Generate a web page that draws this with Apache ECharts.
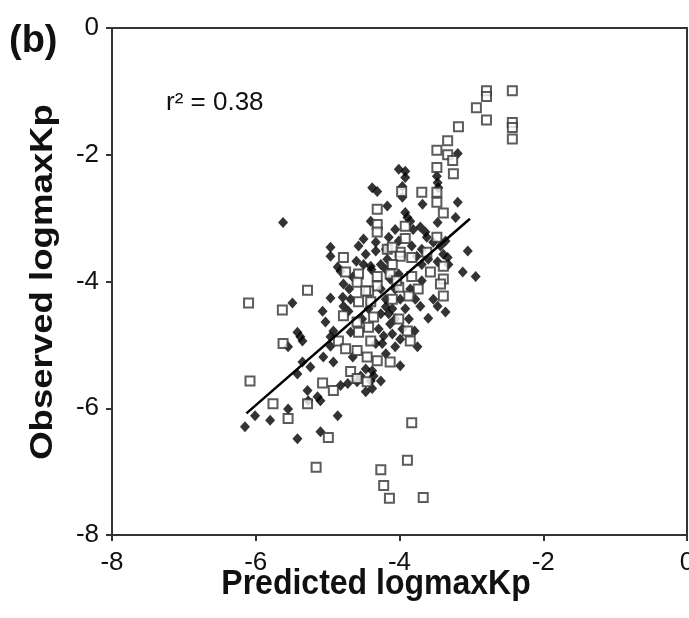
<!DOCTYPE html>
<html>
<head>
<meta charset="utf-8">
<script src="https://cdn.jsdelivr.net/npm/echarts@6/dist/echarts.min.js"></script>
<style>
html,body{margin:0;padding:0;background:#fff;}
#chart{width:689px;height:618px;}
</style>
</head>
<body>
<div id="chart"></div>
<script>
// Open squares (predicted, observed)
const squarePoints = [
[-2.79,-0.99],[-2.79,-1.08],[-2.43,-0.99],[-2.93,-1.26],[-2.79,-1.45],[-2.43,-1.49],[-2.43,-1.57],[-2.43,-1.75],
[-3.18,-1.56],[-3.33,-1.78],[-3.48,-1.93],[-3.33,-2.00],[-3.26,-2.09],[-3.48,-2.20],[-3.25,-2.30],[-3.69,-2.59],
[-3.48,-2.59],[-3.48,-2.75],[-3.39,-2.92],[-3.48,-3.30],[-3.92,-3.32],[-3.99,-3.54],[-4.31,-2.86],[-4.31,-3.10],
[-4.31,-3.22],[-4.17,-3.49],[-4.78,-3.62],[-4.75,-3.85],[-4.57,-3.88],[-4.59,-4.01],[-4.31,-3.92],[-4.31,-4.07],
[-5.28,-4.14],[-4.43,-4.15],[-6.10,-4.34],[-5.63,-4.45],[-5.62,-4.98],[-6.08,-5.57],[-5.76,-5.93],[-5.55,-6.16],
[-5.28,-5.93],[-5.07,-5.60],[-4.92,-5.72],[-4.78,-4.54],[-4.85,-4.94],[-4.75,-5.06],[-4.59,-5.09],[-4.45,-5.19],
[-4.68,-5.42],[-4.59,-5.53],[-4.59,-4.64],[-4.57,-4.80],[-4.40,-4.94],[-4.47,-4.15],[-4.40,-4.32],[-4.57,-4.32],
[-4.36,-4.56],[-3.97,-2.58],[-3.92,-3.13],[-4.10,-3.46],[-3.99,-3.60],[-4.10,-3.73],[-3.83,-3.62],[-3.62,-3.54],
[-3.39,-3.76],[-3.57,-3.85],[-3.83,-3.92],[-3.74,-4.12],[-3.87,-4.23],[-4.10,-4.28],[-4.01,-4.09],[-3.39,-3.96],
[-3.43,-4.04],[-3.39,-4.23],[-4.01,-4.59],[-3.89,-4.78],[-3.85,-4.94],[-4.13,-5.27],[-3.83,-6.23],[-4.26,-6.97],
[-4.22,-7.22],[-4.14,-7.42],[-3.89,-6.82],[-3.67,-7.41],[-5.16,-6.93],[-4.99,-6.46],[-4.43,-4.72],[-4.31,-5.25],
[-4.45,-5.58],[-4.13,-3.88],[-4.04,-3.99]
];
// Filled diamonds (predicted, observed)
const diamondPoints = [
[-3.19,-1.98],[-4.01,-2.23],[-3.92,-2.26],[-3.92,-2.36],[-3.48,-2.34],[-3.47,-2.44],[-3.46,-2.52],[-3.96,-2.50],
[-3.96,-2.67],[-4.17,-2.81],[-3.68,-2.78],[-3.19,-2.75],[-3.92,-2.91],[-3.89,-2.99],[-3.22,-2.99],[-3.47,-3.07],
[-3.71,-3.14],[-3.64,-3.22],[-3.81,-3.18],[-3.05,-3.52],[-3.39,-3.57],[-5.62,-3.07],[-4.38,-2.52],[-4.31,-2.58],
[-4.96,-3.46],[-4.96,-3.60],[-4.57,-3.44],[-4.50,-3.33],[-4.33,-3.52],[-4.86,-3.77],[-4.78,-4.04],[-4.50,-3.73],
[-4.40,-3.76],[-5.49,-4.34],[-5.07,-4.47],[-5.03,-4.64],[-4.96,-4.26],[-4.79,-4.25],[-5.42,-4.80],[-5.38,-4.87],
[-5.35,-4.94],[-5.55,-5.03],[-5.35,-5.27],[-5.24,-5.35],[-5.06,-5.19],[-5.42,-5.46],[-5.28,-5.72],[-5.14,-5.82],
[-5.10,-5.88],[-5.55,-6.01],[-6.01,-6.12],[-5.80,-6.19],[-4.86,-6.12],[-6.15,-6.29],[-4.47,-5.74],[-4.36,-5.49],
[-3.99,-5.33],[-4.26,-5.57],[-3.71,-4.39],[-3.60,-4.58],[-3.53,-4.28],[-3.47,-4.39],[-3.36,-4.48],[-3.75,-5.03],
[-4.06,-5.03],[-3.79,-4.78],[-4.40,-3.05],[-4.33,-3.38],[-4.82,-3.84],[-4.39,-3.81],[-4.19,-3.49],[-4.17,-3.65],
[-3.85,-3.05],[-4.06,-3.18],[-4.15,-3.30],[-4.01,-3.36],[-3.62,-3.30],[-3.53,-3.38],[-3.43,-3.44],[-3.36,-3.36],
[-3.83,-3.44],[-3.69,-3.49],[-3.76,-3.60],[-3.60,-3.65],[-3.69,-3.73],[-3.47,-3.69],[-3.33,-3.62],[-3.32,-3.73],
[-3.12,-3.85],[-2.94,-3.92],[-3.69,-3.99],[-4.15,-4.51],[-4.13,-4.67],[-3.96,-4.75],[-4.78,-4.39],[-4.71,-4.47],
[-4.92,-4.78],[-4.96,-4.87],[-4.96,-5.02],[-4.92,-5.27],[-4.68,-4.80],[-4.65,-5.19],[-4.47,-5.38],[-4.38,-5.41],
[-4.40,-5.57],[-4.54,-5.49],[-4.82,-5.64],[-4.72,-5.61],[-4.59,-5.58],[-4.38,-5.69],[-5.27,-5.88],[-4.24,-4.98],
[-4.22,-4.86],[-4.26,-4.51],[-4.19,-4.40],[-5.42,-6.48],[-5.10,-6.37],[-4.19,-3.81],[-4.13,-3.96],[-4.06,-4.12],
[-4.26,-4.12],[-4.19,-4.28],[-4.10,-4.43],[-3.99,-4.28],[-3.92,-4.43],[-4.06,-4.59],[-4.26,-3.73],[-4.01,-3.88],
[-3.85,-4.12],[-3.78,-4.28],[-3.87,-4.59],[-3.99,-4.91],[-4.10,-4.83],[-4.19,-5.14],[-4.29,-4.75],[-4.33,-4.98],
[-4.43,-4.43],[-4.52,-4.59],[-4.68,-4.28],[-4.47,-3.57],[-4.60,-3.68],[-4.70,-4.12],[-4.65,-3.93]
];
// Regression line end points
const fitLine = [[-6.13,-6.08],[-3.02,-3.01]];
const axisTicks = [-8,-6,-4,-2,0];
const rSquaredText = 'r² = 0.38';
const panelLabel = '(b)';
const xTitle = 'Predicted logmaxKp';
const yTitle = 'Observed logmaxKp';

const chart = echarts.init(document.getElementById('chart'), null, {renderer:'canvas'});
const FONT = '"Liberation Sans", Arial, sans-serif';
const axisCommon = {
  min: axisTicks[0], max: axisTicks[axisTicks.length-1], interval: 2,
  axisLine: {onZero:false, lineStyle:{color:'#333', width:2}},
  axisTick: {show:true, length:6, lineStyle:{color:'#333', width:2}},
  axisLabel: {color:'#111', fontSize:26, fontFamily:FONT},
  splitLine: {show:false}
};
chart.setOption({
  animation:false,
  backgroundColor:'#fff',
  grid:{left:112, right:2, top:28, bottom:83, containLabel:false, outerBoundsMode:'none',
        show:true, borderColor:'#333', borderWidth:2, backgroundColor:'transparent'},
  xAxis: Object.assign({}, axisCommon, {type:'value',
    axisLabel:Object.assign({}, axisCommon.axisLabel, {margin:15})}),
  yAxis: Object.assign({}, axisCommon, {type:'value',
    axisLabel:Object.assign({}, axisCommon.axisLabel, {margin:13})}),
  graphic:[
    {type:'text', x:9, y:23, style:{text:panelLabel, font:'bold 38px ' + FONT, fill:'#111', align:'left', verticalAlign:'top'}},
    {type:'text', x:166, y:90, style:{text:rSquaredText, font:'26px ' + FONT, fill:'#111', align:'left', verticalAlign:'top'}},
    {type:'text', x:376, y:584, scaleY:1.08, style:{text:xTitle, font:'bold 32px ' + FONT, fill:'#111', align:'center', verticalAlign:'middle'}},
    {type:'text', x:43, y:282, rotation:Math.PI/2, scaleX:1.18, style:{text:yTitle, font:'bold 31px ' + FONT, fill:'#111', align:'center', verticalAlign:'middle'}}
  ],
  series:[
    {type:'scatter', data:diamondPoints, symbol:'diamond', symbolSize:[10,11],
     itemStyle:{color:'#000'}, z:2},
    {type:'scatter', data:squarePoints, symbol:'rect', symbolSize:9,
     itemStyle:{color:'#fff', borderColor:'#333', borderWidth:2}, z:3},
    {type:'line', data:fitLine, symbol:'none', lineStyle:{color:'#000', width:2.5}, z:4}
  ]
});
</script>
</body>
</html>
